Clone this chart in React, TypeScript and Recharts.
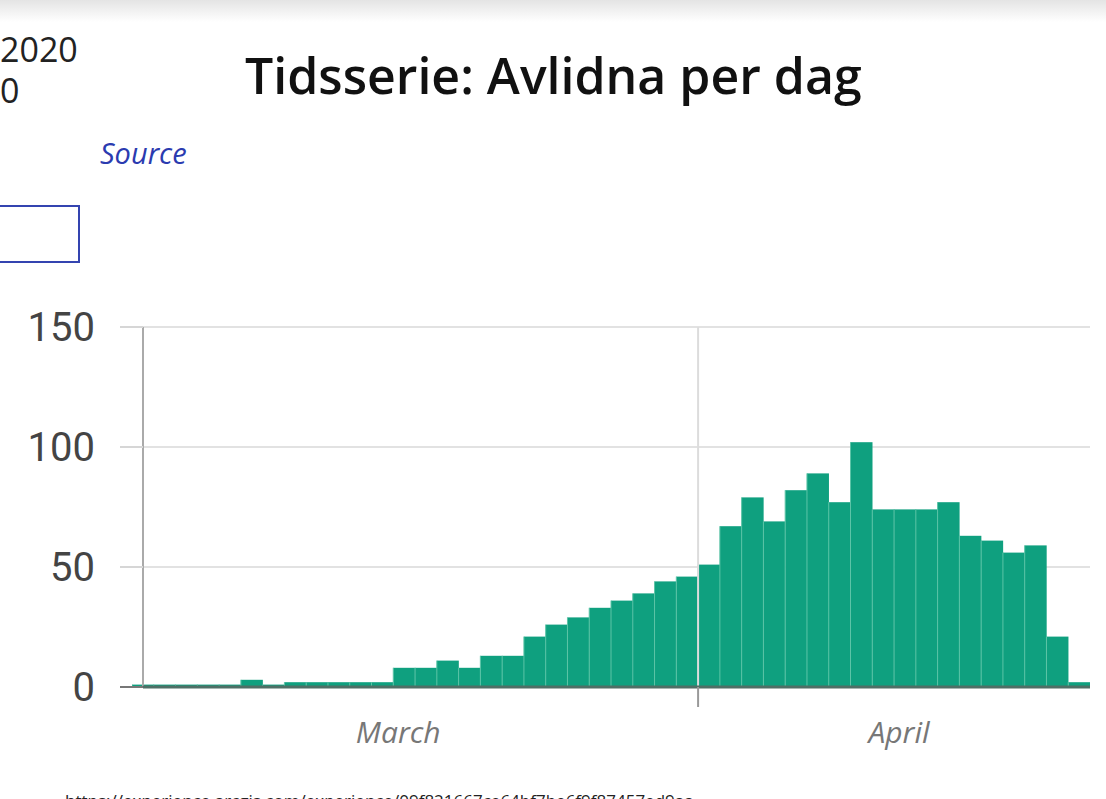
import React from "react"
import {
  Bar,
  BarChart,
  CartesianGrid,
  ReferenceLine,
  XAxis,
  YAxis,
} from "recharts"

const days = [
  "2020-03-06", "2020-03-07", "2020-03-08", "2020-03-09", "2020-03-10",
  "2020-03-11", "2020-03-12", "2020-03-13", "2020-03-14", "2020-03-15",
  "2020-03-16", "2020-03-17", "2020-03-18", "2020-03-19", "2020-03-20",
  "2020-03-21", "2020-03-22", "2020-03-23", "2020-03-24", "2020-03-25",
  "2020-03-26", "2020-03-27", "2020-03-28", "2020-03-29", "2020-03-30",
  "2020-03-31", "2020-04-01", "2020-04-02", "2020-04-03", "2020-04-04",
  "2020-04-05", "2020-04-06", "2020-04-07", "2020-04-08", "2020-04-09",
  "2020-04-10", "2020-04-11", "2020-04-12", "2020-04-13", "2020-04-14",
  "2020-04-15", "2020-04-16", "2020-04-17", "2020-04-18",
]

const deaths = [
  1, 1, 1, 1, 1, 3, 1, 2, 2, 2,
  2, 2, 8, 8, 11, 8, 13, 13, 21, 26,
  29, 33, 36, 39, 44, 46, 51, 67, 79, 69,
  82, 89, 77, 102, 74, 74, 74, 77, 63, 61,
  56, 59, 21, 2,
]

const yTicks = [0, 50, 100, 150]

// month labels sit next to the middle of the visible part of each month
const monthTicks = ["2020-03-17", "2020-04-09"]
const monthNames = ["March", "April"]
const monthStart = "2020-04-01"

const data = days.map((day, i) => ({ day, deaths: deaths[i] }))

const TEAL = "#0fa07f"

const YTick = (props: any) => {
  const { x, y, payload } = props
  const axisX = x + 25 + 23
  return (
    <g>
      <line
        x1={axisX - 23}
        x2={axisX}
        y1={y}
        y2={y}
        stroke={payload.value === 0 ? "#777" : "#d6d6d6"}
        strokeWidth={2}
      />
      <text
        x={x}
        y={y}
        dy={14}
        textAnchor="end"
        fontSize={40}
        fill="#444"
        fontFamily="Roboto, 'Liberation Sans', Arial, sans-serif"
      >
        {payload.value}
      </text>
    </g>
  )
}

const XTick = (props: any) => {
  const { x, y, payload } = props
  const half = payload.offset ?? 0
  if (payload.value === monthStart) {
    return (
      <line x1={x - half} x2={x - half} y1={y - 20} y2={y} stroke="#999" strokeWidth={2} />
    )
  }
  const idx = monthTicks.indexOf(payload.value)
  return (
    <text
      x={x + half + 5}
      y={y + 36}
      textAnchor="middle"
      fontSize={30}
      fontStyle="italic"
      fill="#777"
      fontFamily="'Open Sans', sans-serif"
    >
      {monthNames[idx]}
    </text>
  )
}

const DayBar = (props: any) => {
  const { x, y, width, height } = props
  if (!height || height <= 0) return null
  return (
    <g>
      <rect x={x} y={y} width={width} height={height} fill={TEAL} />
      <line x1={x} x2={x} y1={y} y2={y + height} stroke="#5cc4a7" strokeWidth={1} />
    </g>
  )
}

export default function App() {
  return (
    <div
      style={{
        position: "absolute",
        left: 0,
        top: 0,
        width: 1106,
        height: 799,
        overflow: "hidden",
        background: "#fff",
        fontFamily: "'Open Sans', sans-serif",
      }}
    >
      <div
        style={{
          position: "absolute",
          left: 0,
          top: 0,
          width: 1106,
          height: 22,
          background: "linear-gradient(#e4e4e4, #ffffff)",
        }}
      />
      <div style={{ position: "absolute", left: 0, top: 31, fontSize: 34, color: "#222", lineHeight: "36px" }}>
        2020
      </div>
      <div style={{ position: "absolute", left: 0, top: 72, fontSize: 34, color: "#222", lineHeight: "36px" }}>
        0
      </div>
      <div
        style={{
          position: "absolute",
          left: 245,
          top: 40,
          fontSize: 50,
          fontWeight: 600,
          color: "#111",
          lineHeight: "70px",
          whiteSpace: "nowrap",
        }}
      >
        Tidsserie: Avlidna per dag
      </div>
      <div
        style={{
          position: "absolute",
          left: 100,
          top: 134,
          fontSize: 29,
          fontStyle: "italic",
          color: "#2b3bb0",
          lineHeight: "38px",
        }}
      >
        Source
      </div>
      <div
        style={{
          position: "absolute",
          left: -10,
          top: 205,
          width: 86,
          height: 54,
          border: "2px solid #3444b0",
        }}
      />
      <div style={{ position: "absolute", left: 0, top: 300 }}>
        <BarChart
          width={1106}
          height={457}
          data={data}
          barCategoryGap={0}
          margin={{ top: 27, right: 16, left: 0, bottom: 0 }}
        >
          <CartesianGrid vertical={false} stroke="#e2e2e2" strokeWidth={2} />
          <ReferenceLine x={monthStart} position="start" stroke="#dcdcdc" strokeWidth={2} />
          <YAxis
            domain={[0, 150]}
            ticks={yTicks}
            allowDataOverflow
            width={143}
            tickSize={23}
            tickMargin={25}
            tickLine={false}
            axisLine={{ stroke: "#aaa", strokeWidth: 2 }}
            tick={<YTick />}
          />
          <XAxis
            dataKey="day"
            ticks={[monthTicks[0], monthStart, monthTicks[1]]}
            interval={0}
            height={70}
            allowDataOverflow
            padding={{ left: -11, right: 0 }}
            tickSize={20}
            tickMargin={0}
            tickLine={false}
            axisLine={{ stroke: "#4f6f66", strokeWidth: 3 }}
            tick={<XTick />}
          />
          <Bar dataKey="deaths" fill={TEAL} shape={<DayBar />} isAnimationActive={false} />
        </BarChart>
      </div>
      <div
        style={{
          position: "absolute",
          left: 65,
          top: 790,
          fontSize: 17,
          color: "#222",
          whiteSpace: "nowrap",
          lineHeight: "22px",
        }}
      >
        https://experience.arcgis.com/experience/09f821667ce64bf7be6f9f87457ed9aa
      </div>
    </div>
  )
}
